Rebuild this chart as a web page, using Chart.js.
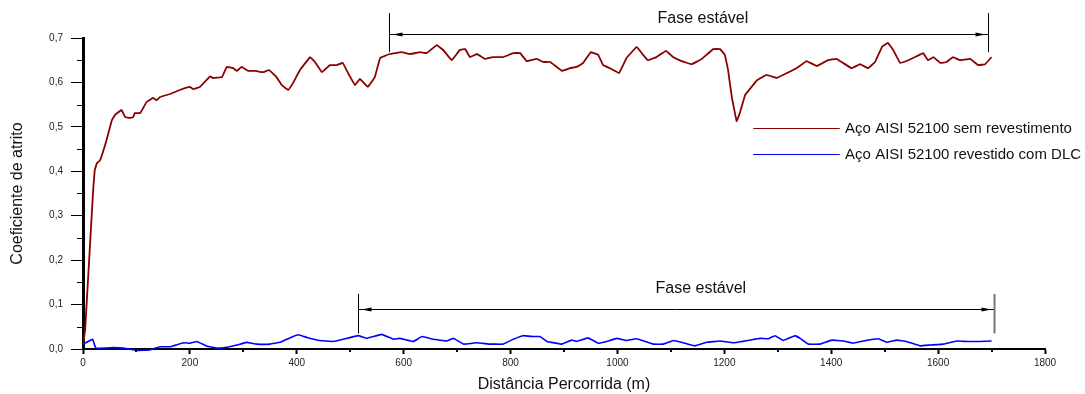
<!DOCTYPE html>
<html>
<head>
<meta charset="utf-8">
<script src="https://cdn.jsdelivr.net/npm/chart.js@4/dist/chart.umd.min.js"></script>
<style>
  html, body { margin: 0; padding: 0; background: #fff; }
  canvas { display: block; }
</style>
</head>
<body>
<canvas id="atritoChart" width="1085" height="394"></canvas>
<script>
// distance (m) / friction coefficient
const steelDist = [
  0, 4, 19, 22, 26, 32, 44, 54, 60, 72,
  79, 88, 94, 97, 107, 119, 131, 138, 144, 163,
  181, 200, 206, 219, 238, 243, 260, 269, 281, 288,
  297, 309, 322, 337, 348, 362, 372, 384, 393, 406,
  425, 434, 447, 462, 475, 486, 496, 509, 518, 533,
  546, 556, 574, 596, 612, 631, 643, 662, 674, 690,
  705, 715, 724, 737, 752, 767, 786, 805, 818, 830,
  849, 861, 874, 896, 911, 924, 936, 950, 964, 973,
  986, 1003, 1017, 1036, 1048, 1057, 1073, 1091, 1104, 1120,
  1139, 1158, 1179, 1192, 1201, 1207, 1214, 1223, 1229, 1239,
  1251, 1261, 1279, 1298, 1317, 1335, 1354, 1373, 1394, 1410,
  1422, 1438, 1454, 1469, 1482, 1495, 1506, 1516, 1529, 1544,
  1560, 1572, 1581, 1591, 1604, 1616, 1628, 1641, 1660, 1675,
  1688, 1700
];
const steelCoef = [
  0.010, 0.043, 0.358, 0.403, 0.418, 0.425, 0.470, 0.515, 0.527, 0.538,
  0.522, 0.520, 0.522, 0.531, 0.531, 0.556, 0.565, 0.560, 0.567, 0.574,
  0.583, 0.590, 0.585, 0.590, 0.614, 0.610, 0.612, 0.635, 0.632, 0.626,
  0.635, 0.626, 0.626, 0.623, 0.628, 0.612, 0.594, 0.583, 0.599, 0.628,
  0.657, 0.646, 0.623, 0.639, 0.639, 0.644, 0.621, 0.594, 0.608, 0.590,
  0.612, 0.655, 0.664, 0.668, 0.664, 0.668, 0.666, 0.684, 0.673, 0.650,
  0.673, 0.675, 0.657, 0.664, 0.653, 0.657, 0.657, 0.666, 0.666, 0.648,
  0.653, 0.646, 0.646, 0.626, 0.632, 0.635, 0.644, 0.668, 0.662, 0.639,
  0.632, 0.621, 0.655, 0.680, 0.662, 0.650, 0.657, 0.671, 0.657, 0.648,
  0.641, 0.653, 0.675, 0.675, 0.662, 0.628, 0.567, 0.513, 0.531, 0.572,
  0.590, 0.605, 0.617, 0.610, 0.621, 0.632, 0.648, 0.637, 0.650, 0.653,
  0.644, 0.632, 0.641, 0.632, 0.646, 0.680, 0.689, 0.673, 0.644, 0.650,
  0.659, 0.666, 0.650, 0.657, 0.644, 0.646, 0.657, 0.650, 0.653, 0.639,
  0.641, 0.657
];

const dlcDist = [
  0, 18, 24, 57, 75, 100, 125, 144, 163, 188,
  200, 213, 231, 250, 269, 288, 306, 325, 350, 369,
  387, 403, 419, 443, 468, 487, 515, 531, 559, 581,
  593, 618, 634, 655, 681, 693, 712, 737, 762, 786,
  805, 824, 843, 855, 868, 896, 914, 924, 945, 964,
  980, 999, 1017, 1036, 1067, 1086, 1105, 1123, 1145, 1167,
  1192, 1217, 1248, 1267, 1282, 1295, 1310, 1332, 1342, 1357,
  1379, 1401, 1423, 1441, 1460, 1488, 1504, 1523, 1541, 1566,
  1585, 1610, 1635, 1654, 1678, 1700
];
const dlcCoef = [
  0.011, 0.022, 0.002, 0.003, 0.002, -0.003, -0.002, 0.005, 0.005, 0.014,
  0.013, 0.017, 0.007, 0.002, 0.004, 0.009, 0.015, 0.011, 0.011, 0.015,
  0.025, 0.032, 0.026, 0.019, 0.017, 0.022, 0.030, 0.024, 0.033, 0.022,
  0.024, 0.017, 0.028, 0.022, 0.018, 0.024, 0.011, 0.014, 0.011, 0.011,
  0.022, 0.030, 0.028, 0.028, 0.017, 0.011, 0.020, 0.017, 0.025, 0.013,
  0.017, 0.024, 0.019, 0.023, 0.011, 0.011, 0.019, 0.014, 0.007, 0.015,
  0.018, 0.014, 0.020, 0.024, 0.023, 0.030, 0.019, 0.030, 0.024, 0.011,
  0.011, 0.020, 0.018, 0.013, 0.018, 0.023, 0.015, 0.020, 0.017, 0.007,
  0.009, 0.011, 0.018, 0.017, 0.017, 0.018
];

const seriesLabels = ['Aço AISI 52100 sem revestimento', 'Aço AISI 52100 revestido com DLC'];
const seriesColors = ['#8b0000', '#0000ff'];

// "Fase estável" brackets, in data units
const phases = [
  { from: 573, to: 1694, arrowAt: 0.709, barTop: 0.756, barBottom: 0.668, labelX: 1160, labelY: 0.743, rightBar: '#000' },
  { from: 515, to: 1704, arrowAt: 0.090, barTop: 0.124, barBottom: 0.035, labelX: 1156, labelY: 0.137, rightBar: '#777' }
];
// legend placement inside the plot, in data units
const legendSpot = { x0: 1254, x1: 1416, textX: 1426, rows: [0.497, 0.439] };

const FONT = 'Arial, "Liberation Sans", sans-serif';

const toPoints = (xs, ys) => xs.map((d, i) => ({ x: d, y: ys[i] }));

const overlay = {
  id: 'overlay',
  afterDraw(chart) {
    const { ctx, chartArea, scales: { x, y } } = chart;
    ctx.save();

    // minor ticks
    ctx.strokeStyle = '#000';
    ctx.lineWidth = 1;
    for (let i = 0; i < 7; i++) {
      const py = Math.round(y.getPixelForValue(0.05 + i * 0.1)) + 0.5;
      ctx.beginPath();
      ctx.moveTo(chartArea.left - 6, py);
      ctx.lineTo(chartArea.left, py);
      ctx.stroke();
    }
    ctx.lineWidth = 2;
    for (let i = 0; i < 9; i++) {
      const px = Math.round(x.getPixelForValue(100 + i * 200));
      ctx.beginPath();
      ctx.moveTo(px, chartArea.bottom);
      ctx.lineTo(px, chartArea.bottom + 3);
      ctx.stroke();
    }

    // stable phase brackets
    phases.forEach(ph => {
      const xl = Math.round(x.getPixelForValue(ph.from)) + 0.5;
      const xr = Math.round(x.getPixelForValue(ph.to)) + 0.5;
      const ya = Math.round(y.getPixelForValue(ph.arrowAt)) + 0.5;
      ctx.lineWidth = 1;
      ctx.strokeStyle = '#000';
      ctx.beginPath();
      ctx.moveTo(xl, y.getPixelForValue(ph.barTop));
      ctx.lineTo(xl, y.getPixelForValue(ph.barBottom));
      ctx.moveTo(xl, ya);
      ctx.lineTo(xr, ya);
      ctx.stroke();
      ctx.strokeStyle = ph.rightBar;
      ctx.lineWidth = ph.rightBar === '#000' ? 1 : 2;
      ctx.beginPath();
      ctx.moveTo(xr, y.getPixelForValue(ph.barTop));
      ctx.lineTo(xr, y.getPixelForValue(ph.barBottom));
      ctx.stroke();

      ctx.fillStyle = '#000';
      ctx.beginPath();
      ctx.moveTo(xl + 3, ya);
      ctx.lineTo(xl + 13, ya - 2);
      ctx.lineTo(xl + 13, ya + 2);
      ctx.closePath();
      ctx.fill();
      ctx.beginPath();
      ctx.moveTo(xr - 3, ya);
      ctx.lineTo(xr - 13, ya - 2);
      ctx.lineTo(xr - 13, ya + 2);
      ctx.closePath();
      ctx.fill();

      ctx.font = '16px ' + FONT;
      ctx.fillStyle = '#111';
      ctx.textAlign = 'center';
      ctx.textBaseline = 'middle';
      ctx.fillText('Fase estável', x.getPixelForValue(ph.labelX), y.getPixelForValue(ph.labelY));
    });

    // legend
    ctx.font = '15px ' + FONT;
    ctx.textAlign = 'left';
    ctx.textBaseline = 'middle';
    seriesLabels.forEach((lab, i) => {
      const py = Math.round(y.getPixelForValue(legendSpot.rows[i])) + 0.5;
      ctx.strokeStyle = seriesColors[i];
      ctx.lineWidth = 1.2;
      ctx.beginPath();
      ctx.moveTo(x.getPixelForValue(legendSpot.x0), py);
      ctx.lineTo(x.getPixelForValue(legendSpot.x1), py);
      ctx.stroke();
      ctx.fillStyle = '#111';
      ctx.fillText(lab, x.getPixelForValue(legendSpot.textX), py);
    });

    ctx.restore();
  }
};

new Chart(document.getElementById('atritoChart'), {
  type: 'line',
  data: {
    datasets: [
      {
        label: seriesLabels[0],
        data: toPoints(steelDist, steelCoef),
        borderColor: seriesColors[0],
        borderWidth: 1.8,
        pointRadius: 0,
        tension: 0.05,
        fill: false
      },
      {
        label: seriesLabels[1],
        data: toPoints(dlcDist, dlcCoef),
        borderColor: seriesColors[1],
        borderWidth: 1.6,
        pointRadius: 0,
        tension: 0.05,
        clip: false,
        fill: false
      }
    ]
  },
  options: {
    responsive: false,
    animation: false,
    devicePixelRatio: 1,
    layout: { padding: { top: 38, right: 40, left: 0, bottom: 0 } },
    plugins: {
      legend: { display: false },
      tooltip: { enabled: false }
    },
    scales: {
      x: {
        type: 'linear',
        min: 0,
        max: 1800,
        afterFit: s => { s.height = 45; },
        border: { display: true, color: '#000', width: 2 },
        grid: { drawOnChartArea: false, drawTicks: true, tickLength: 5, tickWidth: 2, tickColor: '#000' },
        ticks: {
          stepSize: 200,
          padding: 3,
          color: '#222',
          font: { family: FONT, size: 10 },
          maxRotation: 0,
          callback: v => String(v)
        },
        title: {
          display: true,
          text: 'Distância Percorrida (m)',
          color: '#111',
          font: { family: FONT, size: 16 },
          padding: { top: 0, bottom: 0 }
        }
      },
      y: {
        min: 0,
        max: 0.7,
        afterFit: s => { s.width = 83; },
        border: { display: true, color: '#000', width: 3 },
        grid: { drawOnChartArea: false, drawTicks: true, tickLength: 12, tickWidth: 1, tickColor: '#000' },
        ticks: {
          stepSize: 0.1,
          padding: 8,
          color: '#222',
          font: { family: FONT, size: 10 },
          callback: v => v.toFixed(1).replace('.', ',')
        },
        title: {
          display: true,
          text: 'Coeficiente de atrito',
          color: '#111',
          font: { family: FONT, size: 16 },
          padding: { top: 8, bottom: 0 }
        }
      }
    }
  },
  plugins: [overlay]
});
</script>
</body>
</html>
